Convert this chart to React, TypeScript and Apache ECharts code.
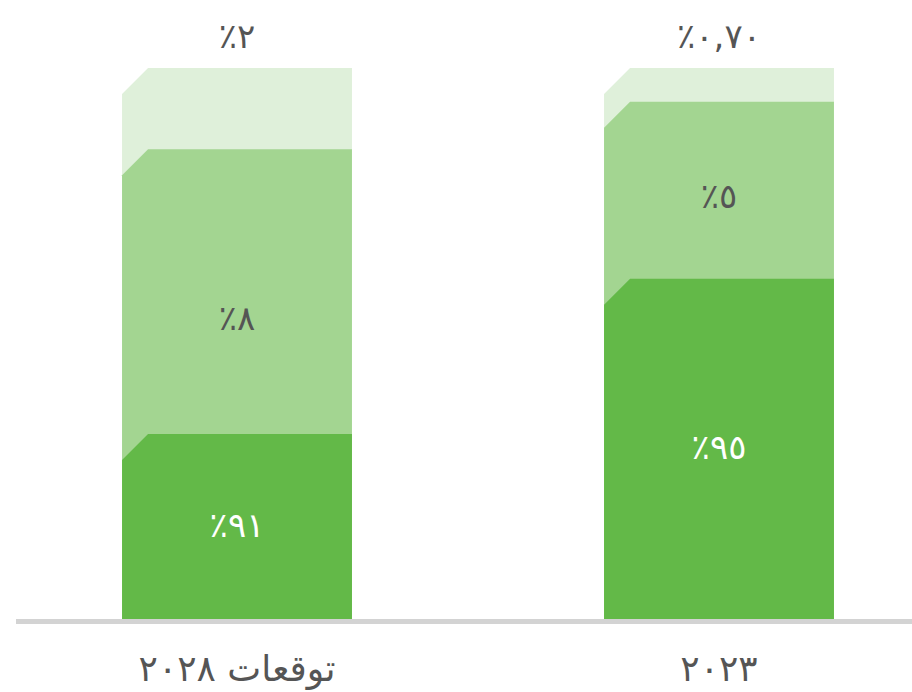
import React, { useEffect, useRef } from "react";
import * as echarts from "echarts";

// Categories (x axis labels)
const categories = ["توقعات ٢٠٢٨", "٢٠٢٣"];

// Visual share of each layer in the stack, bottom to top
const darkValues = [33.7, 61.8];
const mediumValues = [51.6, 32.1];
const lightValues = [14.7, 6.1];

// Displayed labels
const darkLabels = ["٪٩١", "٪٩٥"];
const mediumLabels = ["٪٨", "٪٥"];
const lightLabels = ["٪٢", "٪٠,٧٠"];

// Vertical level (in axis units) at which in-bar labels sit
const darkLabelAt = [17.2, 31.3];
const mediumLabelAt = [54.7, 76.8];

const COLORS = { dark: "#63b948", medium: "#a3d591", light: "#dff0da" };
const FONT = "'DejaVu Sans', sans-serif";
const TEXT = "#555555";

export default function App() {
  const ref = useRef<HTMLDivElement>(null);

  useEffect(() => {
    if (!ref.current) return;
    const chart = echarts.init(ref.current, null, { renderer: "svg" });

    const cum1 = darkValues;
    const cum2 = darkValues.map((v, i) => v + mediumValues[i]);
    const cum3 = cum2.map((v, i) => v + lightValues[i]);

    const makeSeries = (
      name: string,
      tops: number[],
      color: string,
      labels: string[],
      labelAt: number[] | null,
      labelColor: string,
      z: number
    ) => ({
      type: "custom",
      name,
      z,
      data: tops.map((t, i) => [i, 0, t, labelAt ? labelAt[i] : t]),
      encode: { x: 0, y: 2 },
      renderItem: (params: any, api: any) => {
        const cat = api.value(0);
        const top = api.value(2);
        const la = api.value(3);
        const pb = api.coord([cat, 0]);
        const pt = api.coord([cat, top]);
        const w = api.size([1, 0])[0] * 0.477;
        const x0 = pb[0] - w / 2;
        const x1 = pb[0] + w / 2;
        const bev = 26;
        const children: any[] = [
          {
            type: "polygon",
            shape: {
              points: [
                [x0, pb[1]],
                [x0, pt[1] + bev],
                [x0 + bev, pt[1]],
                [x1, pt[1]],
                [x1, pb[1]],
              ],
            },
            style: { fill: color },
          },
        ];
        const ly = labelAt ? api.coord([cat, la])[1] : pt[1] - 32;
        children.push({
          type: "text",
          x: pb[0],
          y: ly,
          style: {
            text: labels[params.dataIndex],
            fill: labelColor,
            font: `normal 34px ${FONT}`,
            align: "center",
            verticalAlign: "middle",
          },
        });
        return { type: "group", children };
      },
    });

    chart.setOption({
      animation: false,
      grid: { left: 0, right: 0, top: 68, bottom: 72 },
      xAxis: {
        type: "category",
        data: categories,
        boundaryGap: true,
        axisLine: { show: false },
        axisTick: { show: false },
        axisLabel: {
          color: TEXT,
          fontSize: 36,
          fontFamily: FONT,
          margin: 30,
        },
      },
      yAxis: { type: "value", min: 0, max: 100, show: false },
      graphic: [
        {
          type: "line",
          shape: { x1: 20, y1: 621.5, x2: 964, y2: 621.5 },
          style: { stroke: "#d3d3d3", lineWidth: 5 },
          z: 100,
        },
      ],
      series: [
        makeSeries("light", cum3, COLORS.light, lightLabels, null, TEXT, 1),
        makeSeries("medium", cum2, COLORS.medium, mediumLabels, mediumLabelAt, TEXT, 2),
        makeSeries("dark", cum1, COLORS.dark, darkLabels, darkLabelAt, "#ffffff", 3),
      ],
    });

    return () => chart.dispose();
  }, []);

  return (
    <div
      style={{
        position: "absolute",
        left: 0,
        top: 0,
        width: 912,
        height: 692,
        overflow: "hidden",
      }}
    >
      <div
        ref={ref}
        style={{ position: "absolute", left: -4, top: 0, width: 964, height: 692 }}
      />
    </div>
  );
}
